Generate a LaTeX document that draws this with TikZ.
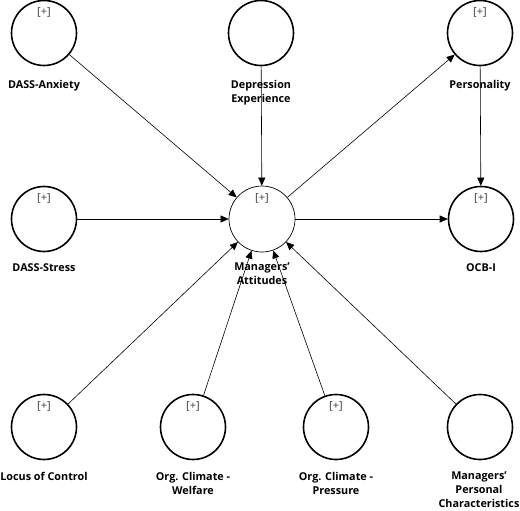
\documentclass[tikz,border=0pt]{standalone}
\usepackage{fontspec}
\setmainfont{Open Sans}
\usetikzlibrary{arrows.meta}
\definecolor{pls_grey}{RGB}{60,60,60}
\tikzstyle{lv}=[circle,draw=black,line width=1.6pt,minimum size=65pt,inner sep=0pt]
\tikzstyle{lvc}=[circle,draw=black,line width=0.7pt,minimum size=66pt,inner sep=0pt]
\tikzstyle{lbl}=[font=\bfseries\fontsize{10.8}{13.8}\selectfont,align=center,anchor=north,inner sep=0pt]
\tikzstyle{plus}=[font=\fontsize{11}{12}\selectfont,text=pls_grey,inner sep=0pt]
\tikzstyle{link}=[-{Triangle[length=8pt,width=7pt]},line width=0.6pt]

\begin{document}
\begin{tikzpicture}[x=1pt, y=-1pt]
            \useasboundingbox (0,0) rectangle (520,511);
            \node [style=lv] (0) at (44, 33) {};
            \node [style=lv] (1) at (261, 33) {};
            \node [style=lv] (2) at (480, 33) {};
            \node [style=lv] (3) at (44, 219) {};
            \node [style=lvc] (4) at (262, 219) {};
            \node [style=lv] (5) at (481, 219) {};
            \node [style=lv] (6) at (44, 427) {};
            \node [style=lv] (7) at (193, 427) {};
            \node [style=lv] (8) at (336, 427) {};
            \node [style=lv] (9) at (480, 427) {};
            % indicator markers
            \node [style=plus] (10) at ([yshift=-13pt]0.north) {[+]};
            \node [style=plus] (12) at ([yshift=-13pt]2.north) {[+]};
            \node [style=plus] (13) at ([yshift=-13pt]3.north) {[+]};
            \node [style=plus] (14) at ([yshift=-13pt]4.north) {[+]};
            \node [style=plus] (15) at ([yshift=-13pt]5.north) {[+]};
            \node [style=plus] (16) at ([yshift=-13pt]6.north) {[+]};
            \node [style=plus] (17) at ([yshift=-13pt]7.north) {[+]};
            \node [style=plus] (18) at ([yshift=-13pt]8.north) {[+]};
            % construct names
            \node [style=lbl] (20) at (44, 80) {DASS-Anxiety};
            \node [style=lbl] (21) at (261, 80) {Depression\\Experience};
            \node [style=lbl] (22) at (480, 80) {Personality};
            \node [style=lbl] (23) at (44, 263) {DASS-Stress};
            \node [style=lbl] (24) at (262, 263) {Managers'\\Attitudes};
            \node [style=lbl] (25) at (481, 263) {OCB-I};
            \node [style=lbl] (26) at (44, 472) {Locus of Control};
            \node [style=lbl] (27) at (193, 472) {Org. Climate -\\Welfare};
            \node [style=lbl] (28) at (336, 472) {Org. Climate -\\Pressure};
            \node [style=lbl] (29) at (479, 472) {Managers'\\Personal\\Characteristics};
            \draw [style=link] (0) to (4);
            \draw [style=link] (1) to (4);
            \draw [style=link] (4) to (2);
            \draw [style=link] (2) to (5);
            \draw [style=link] (3) to (4);
            \draw [style=link] (4) to (5);
            \draw [style=link] (6) to (4);
            \draw [style=link] (7) to (4);
            \draw [style=link] (8) to (4);
            \draw [style=link] (9) to (4);
    \end{tikzpicture}
\end{document}
